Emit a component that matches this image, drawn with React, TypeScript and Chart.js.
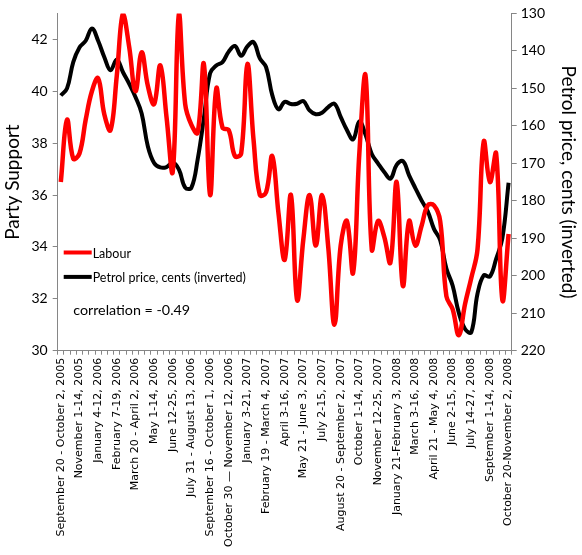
import { useEffect, useRef } from "react";
import { Chart, registerables } from "chart.js";

Chart.register(...registerables);

// Every third poll carries a label on the category axis
const tickLabels = [
  "September 20 - October 2, 2005",
  "November 1-14, 2005",
  "January 4-12, 2006",
  "February 7-19, 2006",
  "March 20 - April 2, 2006",
  "May 1-14, 2006",
  "June 12-25, 2006",
  "July 31 - August 13, 2006",
  "September 16 - October 1, 2006",
  "October 30 \u2014 November 12, 2006",
  "January 3-21, 2007",
  "February 19 - March 4, 2007",
  "April 3-16, 2007",
  "May 21 - June 3, 2007",
  "July 2-15, 2007",
  "August 20 - September 2, 2007",
  "October 1-14, 2007",
  "November 12-25, 2007",
  "January 21-February 3, 2008",
  "March 3-16, 2008",
  "April 21 - May 4, 2008",
  "June 2-15, 2008",
  "July 14-27, 2008",
  "September 1-14, 2008",
  "October 20-November 2, 2008",
];

const labourSupport = [
  36.5, 38.9, 37.4, 37.6, 38.9, 40.0, 40.5, 39.1, 38.5, 40.6,
  43.0, 41.7, 40.0, 41.5, 40.2, 39.5, 41.0, 39.0, 36.9, 43.0,
  39.5, 38.7, 38.4, 41.05, 36.0, 40.1, 38.6, 38.5, 37.5, 37.6,
  41.05, 38.1, 36.0, 36.1, 37.5, 35.3, 33.5, 36.0, 31.95, 34.3,
  36.0, 34.05, 36.0, 34.0, 31.0, 34.05, 35.0, 33.0, 37.6, 40.6,
  33.9, 35.0, 34.4, 33.4, 36.5, 32.5, 35.0, 34.05, 34.8, 35.6,
  35.6, 35.0, 32.1, 31.6, 30.6, 31.8, 32.8, 33.9, 38.06, 36.5,
  37.6, 31.95, 34.5,
];

const petrolPrice = [
  151.9, 150.0, 143.0, 139.1, 137.3, 134.0, 137.3, 141.7, 145.2, 142.3,
  145.7, 148.8, 152.3, 156.7, 165.5, 169.9, 171.1, 171.0, 169.8, 171.7,
  176.5, 176.5, 169.0, 158.0, 146.0, 143.9, 143.0, 140.2, 138.7, 141.3,
  138.8, 137.7, 142.0, 144.3, 151.8, 155.6, 153.6, 154.2, 154.1, 153.4,
  155.9, 156.9, 156.5, 155.0, 154.1, 157.6, 161.1, 163.6, 158.8, 162.4,
  167.5, 170.0, 172.3, 174.1, 170.4, 169.4, 173.2, 176.6, 179.9, 182.8,
  187.5, 190.5, 198.1, 202.6, 209.9, 214.2, 215.1, 204.8, 199.9, 200.2,
  195.5, 190.0, 175.2,
];

const seriesNames = ["Labour", "Petrol price, cents (inverted)"];
const correlationText = "correlation = -0.49";

const categories = labourSupport.map((_, i) => (i % 3 === 0 ? tickLabels[i / 3] : ""));

const FONT = "Lato, 'Open Sans', sans-serif";
const AXIS_GREY = "#868686";

const overlayPlugin = {
  id: "overlay",
  afterDatasetsDraw(chart: any) {
    const { ctx, chartArea } = chart;
    ctx.save();
    const x0 = chartArea.left + 6;
    const x1 = chartArea.left + 34;
    chart.data.datasets.forEach((ds: any, k: number) => {
      const y = 252.5 + k * 24.4;
      ctx.strokeStyle = ds.borderColor;
      ctx.lineWidth = 4;
      ctx.lineCap = "butt";
      ctx.beginPath();
      ctx.moveTo(x0, y);
      ctx.lineTo(x1, y);
      ctx.stroke();
      ctx.fillStyle = "#000";
      ctx.font = `12.5px ${FONT}`;
      ctx.textBaseline = "middle";
      ctx.textAlign = "left";
      ctx.fillText(ds.label, x1 + 1, y + 1);
    });
    ctx.font = `14.3px ${FONT}`;
    ctx.fillStyle = "#000";
    ctx.textBaseline = "middle";
    ctx.fillText(correlationText, chartArea.left + 15.5, 310);
    ctx.restore();
  },
};

export default function App() {
  const ref = useRef<HTMLCanvasElement | null>(null);
  useEffect(() => {
    if (!ref.current) return;
    const chart = new Chart(ref.current, {
      type: "line",
      data: {
        labels: categories,
        datasets: [
          {
            label: seriesNames[0],
            data: labourSupport,
            borderColor: "#FF0000",
            backgroundColor: "#FF0000",
            borderWidth: 4.5,
            pointRadius: 0,
            tension: 0.4,
            yAxisID: "y",
            clip: { left: 5, right: 5, top: 0, bottom: 5 } as any,
          },
          {
            label: seriesNames[1],
            data: petrolPrice,
            borderColor: "#000000",
            backgroundColor: "#000000",
            borderWidth: 4,
            pointRadius: 0,
            tension: 0.4,
            yAxisID: "y1",
          },
        ],
      },
      options: {
        animation: false,
        responsive: false,
        events: [],
        layout: { padding: { top: 10.5, left: 0, right: 0, bottom: 0 } },
        plugins: {
          legend: { display: false },
          tooltip: { enabled: false },
          title: { display: false },
        },
        scales: {
          x: {
            type: "category",
            offset: true,
            grid: {
              display: true,
              drawOnChartArea: false,
              drawTicks: true,
              tickLength: 4,
              offset: true,
              color: AXIS_GREY,
            },
            border: { display: true, color: AXIS_GREY, width: 1 },
            ticks: {
              autoSkip: false,
              maxRotation: 90,
              minRotation: 90,
              padding: 3,
              color: "#000",
              font: { family: "'DejaVu Sans', Verdana, sans-serif", size: 11 },
              callback: (_v: any, i: number) => categories[i],
            },
            afterFit: (s: any) => {
              s.height = 204.3;
            },
          },
          y: {
            position: "left",
            min: 30,
            max: 43,
            ticks: {
              stepSize: 2,
              includeBounds: false,
              padding: 5,
              color: "#000",
              font: { family: FONT, size: 14 },
            },
            grid: { drawOnChartArea: false, tickLength: 5, color: AXIS_GREY },
            border: { color: AXIS_GREY, width: 1 },
            title: {
              display: true,
              text: "Party Support",
              color: "#000",
              font: { family: FONT, size: 19 },
              padding: { top: 1, bottom: 0 },
            },
            afterFit: (s: any) => {
              s.width = 57.7;
            },
          },
          y1: {
            position: "right",
            reverse: true,
            min: 130,
            max: 220,
            ticks: {
              stepSize: 10,
              includeBounds: false,
              padding: 4,
              color: "#000",
              font: { family: FONT, size: 14 },
            },
            grid: { drawOnChartArea: false, tickLength: 5, color: AXIS_GREY },
            border: { color: AXIS_GREY, width: 1 },
            title: {
              display: true,
              text: "Petrol price, cents (inverted)",
              color: "#000",
              font: { family: FONT, size: 19 },
              padding: { top: 2, bottom: 0 },
            },
            afterFit: (s: any) => {
              s.width = 70.3;
            },
          },
        },
      },
      plugins: [overlayPlugin],
    });
    return () => chart.destroy();
  }, []);

  return (
    <div style={{ position: "absolute", left: 0, top: 0, width: 582, height: 555, background: "#fff" }}>
      <canvas ref={ref} width={582} height={555} style={{ display: "block" }} />
    </div>
  );
}
